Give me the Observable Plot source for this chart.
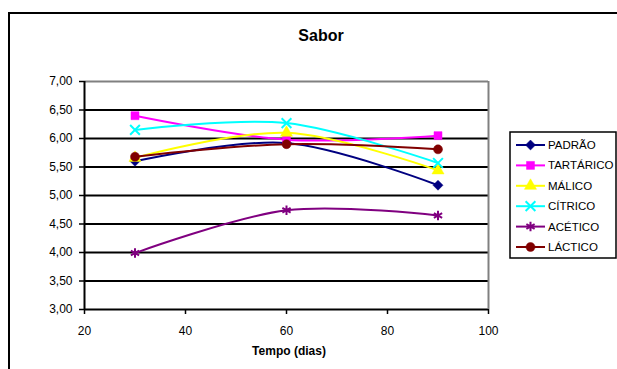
<!DOCTYPE html>
<html>
<head>
<meta charset="utf-8">
<script src="https://cdn.jsdelivr.net/npm/d3@7"></script>
<script src="https://cdn.jsdelivr.net/npm/@observablehq/plot@0.6"></script>
<style>
  html, body { margin: 0; padding: 0; background: #fff; }
  #wrap { position: relative; width: 617px; height: 369px; overflow: hidden; font-family: "Liberation Sans", Arial, sans-serif; }
  #frame { position: absolute; left: 8px; top: 12px; width: 700px; height: 400px; border: 2px solid #000; box-sizing: border-box; }
  #chart { position: absolute; left: 0; top: 0; }
  #title { position: absolute; left: 0; width: 642px; top: 27px; text-align: center; font-weight: bold; font-size: 16px; }
  #xlabel { position: absolute; left: 84px; width: 410px; top: 344px; text-align: center; font-weight: bold; font-size: 12px; }
</style>
</head>
<body>
<div id="wrap">
  <div id="frame"></div>
  <div id="chart"></div>
  <div id="title">Sabor</div>
  <div id="xlabel">Tempo (dias)</div>
</div>
<script>
// ---- data ----
const days = [30, 60, 90];
const seriesNames = ["PADRÃO", "TARTÁRICO", "MÁLICO", "CÍTRICO", "ACÉTICO", "LÁCTICO"];
const padrao    = [5.60, 5.92, 5.18];
const tartarico = [6.40, 5.98, 6.05];
const malico    = [5.66, 6.10, 5.44];
const citrico   = [6.15, 6.27, 5.57];
const acetico   = [3.99, 4.74, 4.65];
const lactico   = [5.68, 5.90, 5.81];
const xTicks = [20, 40, 60, 80, 100];
const yTicks = [3, 3.5, 4, 4.5, 5, 5.5, 6, 6.5, 7];

// ---- styles ----
const seriesColors  = ["#000080", "#FF00FF", "#FFFF00", "#00FFFF", "#800080", "#800000"];
const seriesSymbols = ["diamond2", "square", "triangle", "times", "asterisk", "circle"];
const symbolFilled  = [true, true, true, false, false, true];

const values = [padrao, tartarico, malico, citrico, acetico, lactico];
const rows = [];
seriesNames.forEach((name, i) => {
  days.forEach((d, j) => rows.push({series: name, idx: i, day: d, value: values[i][j]}));
});

const fmt = d => d.toFixed(2).replace(".", ",");

const marks = [
  Plot.ruleY(yTicks.filter(d => d !== 7), {stroke: "#000", strokeWidth: 2}),
  Plot.ruleY([7], {stroke: "#808080", strokeWidth: 2}),
  Plot.ruleX([100], {stroke: "#808080", strokeWidth: 2}),
  Plot.ruleX([20], {stroke: "#000", strokeWidth: 2}),
  Plot.axisY({ticks: yTicks, tickFormat: fmt, tickSize: 5, tickPadding: 7, label: null, stroke: "#000", strokeWidth: 1.5}),
  Plot.axisX({ticks: xTicks, tickFormat: d => String(d), tickSize: 5, tickPadding: 12, label: null, stroke: "#000", strokeWidth: 1.5})
];
seriesNames.forEach((name, i) => {
  const data = rows.filter(r => r.idx === i);
  marks.push(Plot.line(data, {x: "day", y: "value", stroke: seriesColors[i], strokeWidth: 2, curve: "cardinal"}));
});
seriesNames.forEach((name, i) => {
  const data = rows.filter(r => r.idx === i);
  marks.push(Plot.dot(data, {
    x: "day", y: "value", symbol: () => seriesSymbols[i], r: 4.5,
    fill: symbolFilled[i] ? seriesColors[i] : "none",
    stroke: seriesColors[i], strokeWidth: symbolFilled[i] ? 0.5 : 2
  }));
});

const plot = Plot.plot({
  width: 617,
  height: 369,
  marginLeft: 84,
  marginRight: 129,
  marginTop: 81,
  marginBottom: 60,
  x: {domain: [20, 100]},
  y: {domain: [3, 7]},
  symbol: {type: "identity"},
  style: {fontFamily: "'Liberation Sans', Arial, sans-serif", fontSize: "12px", color: "#000", background: "transparent", overflow: "visible"},
  marks
});
document.getElementById("chart").appendChild(plot);

// ---- legend ----
const svg = d3.select(plot);
const lg = svg.append("g").attr("text-anchor", "start");
lg.append("rect").attr("x", 510).attr("y", 132).attr("width", 106).attr("height", 126)
  .attr("fill", "#fff").attr("stroke", "#000").attr("stroke-width", 1.5);
const symMap = {diamond2: d3.symbolDiamond2, square: d3.symbolSquare, triangle: d3.symbolTriangle, times: d3.symbolTimes, asterisk: d3.symbolAsterisk, circle: d3.symbolCircle};
seriesNames.forEach((name, i) => {
  const y = 145 + i * 20.4;
  lg.append("line").attr("x1", 516).attr("x2", 545).attr("y1", y).attr("y2", y)
    .attr("stroke", seriesColors[i]).attr("stroke-width", 2);
  lg.append("path").attr("transform", `translate(530.5,${y})`)
    .attr("d", d3.symbol(symMap[seriesSymbols[i]], Math.PI * 4.5 * 4.5)())
    .attr("fill", symbolFilled[i] ? seriesColors[i] : "none")
    .attr("stroke", seriesColors[i]).attr("stroke-width", symbolFilled[i] ? 0.5 : 2);
  lg.append("text").attr("x", 548).attr("y", y).attr("dy", "0.35em").attr("text-anchor", "start")
    .attr("font-size", "11.5px").attr("fill", "#000").text(name);
});
</script>
</body>
</html>
